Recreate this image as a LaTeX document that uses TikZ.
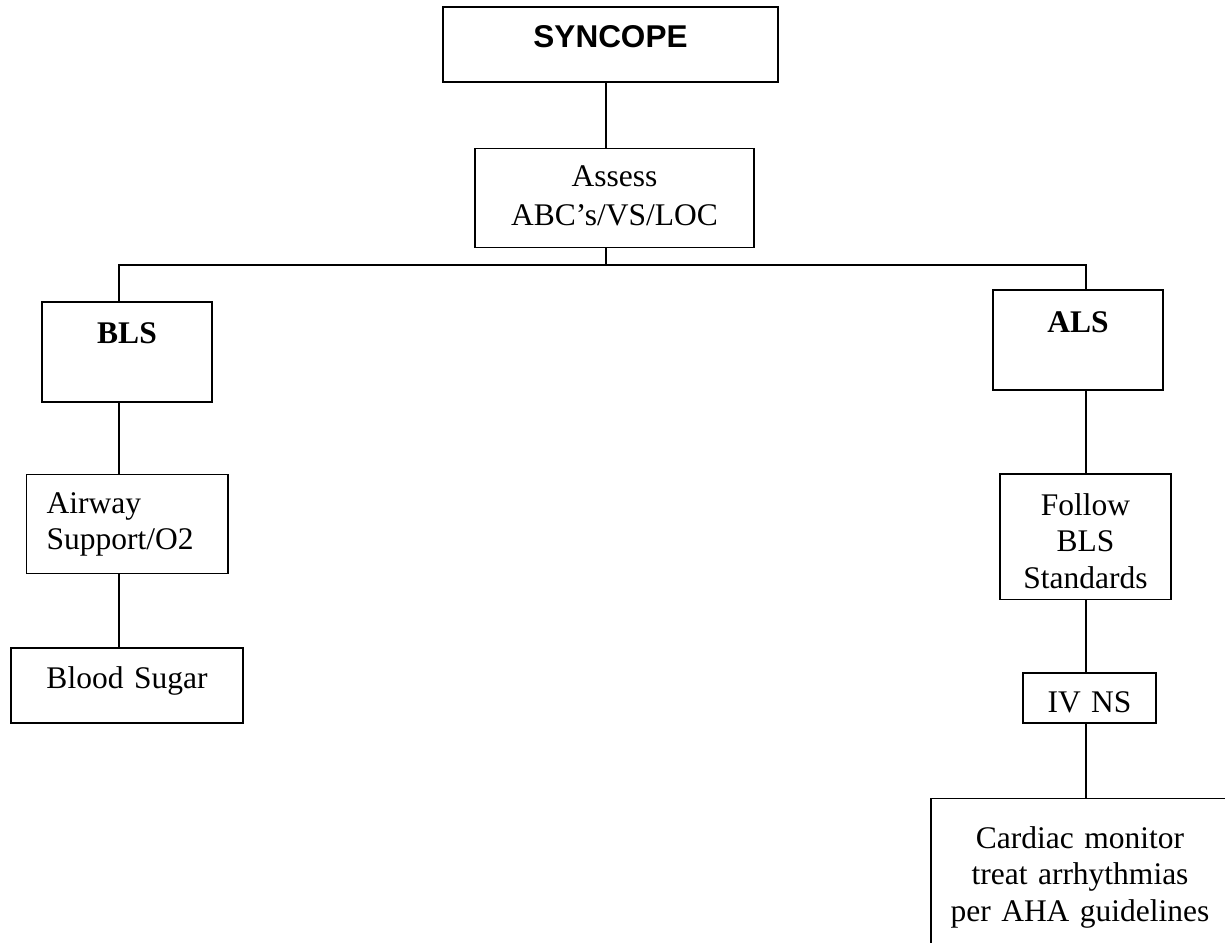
\documentclass[tikz,border=0pt]{standalone}
\usepackage{fontspec}
\setmainfont{Liberation Serif}
\setsansfont{Liberation Sans}

\begin{document}
\begin{tikzpicture}[x=1pt,y=-1pt,
  box/.style={draw,line width=1.6pt,inner sep=0pt,anchor=base,align=center,
    font=\fontsize{31.5}{36.6}\selectfont},
  link/.style={line width=1.6pt}]
\useasboundingbox (0,0) rectangle (1225,942);
\clip (0,0) rectangle (1225,942);

\node[box,text width=335pt,text height=41pt,text depth=34pt] (syncope) at (610.5,48) {\sffamily\bfseries SYNCOPE};
\node[box,text width=279pt,text height=38.4pt,text depth=60.6pt,
  font=\fontsize{31.5}{38.3}\selectfont] (assess) at (614.5,186.7) {Assess\\ABC’s/VS/LOC};
\node[box,text width=170pt,text height=41.3pt,text depth=58.7pt] (bls) at (127,343.3) {\bfseries BLS};
\node[box,text width=170pt,text height=42.3pt,text depth=57.7pt] (als) at (1078,332.3) {\bfseries ALS};
\node[box,text width=161.3pt,inner xsep=20pt,text height=39pt,text depth=60pt,align=left] (airway) at (127.3,513.3) {Airway\\Support/O2};
\node[box,text width=232pt,text height=40.3pt,text depth=34.7pt] (bsugar) at (127,688.3) {Blood Sugar};
\node[box,text width=171pt,text height=41pt,text depth=84.3pt] (follow) at (1085.5,515) {Follow\\BLS\\Standards};
\node[box,text width=133pt,text height=39.7pt,text depth=10.3pt] (ivns) at (1089.5,712.7) {IV NS};
\node[box,text width=298pt,text height=50pt,text depth=200pt] (cardiac) at (1080,848.3) {Cardiac monitor\\treat arrhythmias\\per AHA guidelines};

\coordinate (trunk) at (606,265);
\coordinate (busl) at (119,265);
\coordinate (busr) at (1086,265);

\draw[link] (syncope.south -| trunk) -- (assess.north -| trunk);
\draw[link] (assess.south -| trunk) -- (trunk);
\draw[link] (bls.north -| busl) |- (busr) -- (als.north -| busr);
\draw[link] (bls.south -| busl) -- (airway.north -| busl);
\draw[link] (airway.south -| busl) -- (bsugar.north -| busl);
\draw[link] (als.south -| busr) -- (follow.north -| busr);
\draw[link] (follow.south -| busr) -- (ivns.north -| busr);
\draw[link] (ivns.south -| busr) -- (cardiac.north -| busr);
\end{tikzpicture}
\end{document}
